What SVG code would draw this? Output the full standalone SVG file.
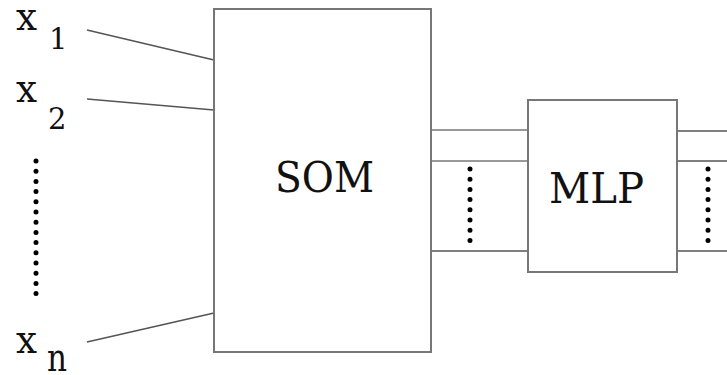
<svg xmlns="http://www.w3.org/2000/svg" width="727" height="375" viewBox="0 0 727 375">
<style>
.box{fill:#fff;stroke:#777;stroke-width:2}
text{font-family:'DejaVu Serif',serif;fill:#111}
.wire{stroke:#555;stroke-width:1.6;fill:none}
.wire2{stroke:#999;stroke-width:2;fill:none}
.dots{stroke:#000;stroke-width:5;stroke-linecap:round;stroke-dasharray:0 10.2;fill:none}
</style>
<rect width="727" height="375" fill="#fff"/>
<g id="connectors">
<line class="wire" x1="87" y1="30" x2="214" y2="60"/>
<line class="wire" x1="87" y1="99" x2="214" y2="110"/>
<line class="wire" x1="87" y1="342" x2="214" y2="313"/>
<line class="wire2" x1="431" y1="130" x2="528" y2="130"/>
<line class="wire2" x1="431" y1="161" x2="528" y2="161"/>
<line class="wire" x1="431" y1="251" x2="528" y2="251"/>
<line class="wire" x1="677" y1="131" x2="727" y2="131"/>
<line class="wire" x1="677" y1="161" x2="727" y2="161"/>
<line class="wire" x1="677" y1="251" x2="727" y2="251"/>
<line class="dots" x1="36" y1="161" x2="36" y2="294"/>
<line class="dots" x1="470" y1="169" x2="470" y2="243"/>
<line class="dots" x1="708" y1="169" x2="708" y2="243"/>
</g>
<g id="x1"><text x="16" y="30" font-size="40" textLength="21" lengthAdjust="spacingAndGlyphs">x</text><text x="49" y="49" font-size="29">1</text></g>
<g id="x2"><text x="16" y="102" font-size="40" textLength="21" lengthAdjust="spacingAndGlyphs">x</text><text x="48" y="129" font-size="29">2</text></g>
<g id="xn"><text x="16" y="353" font-size="40" textLength="21" lengthAdjust="spacingAndGlyphs">x</text><text x="47" y="371" font-size="40" textLength="20" lengthAdjust="spacingAndGlyphs">n</text></g>
<g id="som"><rect class="box" x="214" y="9" width="217" height="343"/><text x="275" y="192" font-size="43" textLength="99" lengthAdjust="spacingAndGlyphs">SOM</text></g>
<g id="mlp"><rect class="box" x="528" y="100" width="149" height="172"/><text x="549" y="203" font-size="43" textLength="95" lengthAdjust="spacingAndGlyphs">MLP</text></g>
</svg>
